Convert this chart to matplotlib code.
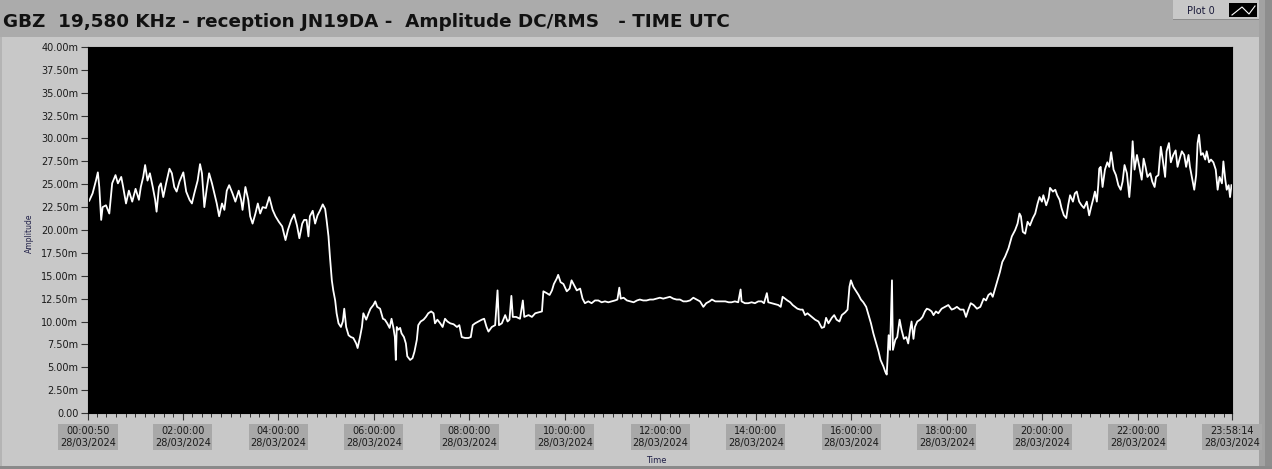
import matplotlib
matplotlib.use("Agg")
from matplotlib import pyplot as plt
from matplotlib.patches import Rectangle
from matplotlib.lines import Line2D
from matplotlib.ticker import FixedLocator, MultipleLocator, FuncFormatter

# time of day (hours UTC) and amplitude (mV)
t_night = [0.04, 0.11, 0.18, 0.22, 0.25, 0.29, 0.32, 0.39, 0.46, 0.52, 0.59, 0.64, 0.71, 0.75, 0.81,
           0.87, 0.94, 1.01, 1.08, 1.12, 1.17, 1.21, 1.26, 1.31, 1.37, 1.42, 1.45, 1.50, 1.54, 1.59,
           1.65, 1.72, 1.77, 1.82, 1.87, 1.93, 2.01, 2.07, 2.14, 2.19, 2.24, 2.31, 2.36, 2.40, 2.45,
           2.50, 2.55, 2.61, 2.66, 2.71, 2.76, 2.82, 2.87, 2.92, 2.97, 3.04, 3.10, 3.17, 3.22, 3.25,
           3.31, 3.37, 3.41, 3.46, 3.52, 3.57, 3.62, 3.67, 3.74, 3.81, 3.88, 3.94, 4.01, 4.08, 4.15,
           4.20, 4.27, 4.33, 4.39, 4.44, 4.50, 4.54]
a_night = [23.2, 24.0, 25.4, 26.3, 24.7, 21.1, 22.5, 22.7, 21.8, 25.1, 26.0, 25.1, 25.8, 24.7, 22.9,
           24.3, 23.1, 24.5, 23.3, 24.7, 25.8, 27.1, 25.4, 26.2, 24.7, 23.3, 22.0, 24.7, 25.1, 23.6,
           25.1, 26.7, 26.2, 24.7, 24.2, 25.3, 26.3, 24.2, 23.3, 22.9, 24.0, 25.4, 27.2, 26.2, 22.5,
           24.5, 26.2, 25.1, 24.0, 22.9, 21.5, 22.9, 22.2, 24.3, 24.9, 24.0, 23.1, 24.3, 23.3, 22.2,
           24.7, 23.3, 21.5, 20.7, 21.8, 22.9, 21.8, 22.5, 22.4, 23.6, 22.2, 21.5, 20.9, 20.4, 18.9,
           20.0, 21.1, 21.7, 20.5, 19.1, 20.7, 21.1]

t_morning = [4.59, 4.63, 4.66, 4.72, 4.77, 4.82, 4.87, 4.93, 4.98, 5.01, 5.05, 5.08, 5.12, 5.15, 5.19,
             5.22, 5.26, 5.31, 5.35, 5.38, 5.42, 5.47, 5.52, 5.57, 5.63, 5.66, 5.71, 5.75, 5.78, 5.84,
             5.89, 5.93, 5.99, 6.03, 6.07, 6.13, 6.19, 6.23, 6.28, 6.33, 6.37, 6.41, 6.44, 6.46, 6.48,
             6.51, 6.55, 6.58, 6.63, 6.67, 6.70, 6.76, 6.81, 6.85, 6.90, 6.93, 6.98, 7.04, 7.09, 7.14,
             7.20, 7.25, 7.28, 7.33, 7.39, 7.44, 7.49, 7.54, 7.60, 7.67, 7.74, 7.79, 7.84, 7.91, 7.98,
             8.03, 8.07, 8.12, 8.19, 8.26, 8.31, 8.36, 8.40, 8.47, 8.54, 8.59, 8.62, 8.68, 8.75, 8.80,
             8.84, 8.88, 8.91, 8.98, 9.06, 9.12, 9.15, 9.24, 9.31, 9.38, 9.45, 9.52, 9.55, 9.62, 9.68,
             9.73, 9.77, 9.83, 9.86, 9.91, 9.97, 10.04, 10.10, 10.14, 10.19, 10.25, 10.32, 10.37, 10.42,
             10.49, 10.56, 10.63, 10.70]
a_morning = [21.1, 19.3, 21.5, 22.1, 20.7, 21.6, 22.1, 22.8, 22.3, 21.1, 19.3, 17.1, 14.5, 13.4, 12.3,
             10.9, 9.8, 9.4, 10.0, 11.4, 9.4, 8.5, 8.3, 8.2, 7.6, 7.1, 8.3, 9.4, 10.9, 10.2,
             10.9, 11.4, 11.8, 12.2, 11.6, 11.4, 10.3, 10.2, 9.8, 9.3, 10.3, 9.3, 8.3, 5.8, 9.4,
             9.1, 9.3, 8.7, 8.3, 7.6, 6.2, 5.8, 6.0, 6.7, 8.0, 9.6, 10.0, 10.2, 10.5, 10.9,
             11.1, 10.9, 9.8, 10.2, 9.8, 9.4, 10.3, 10.0, 9.8, 9.7, 9.4, 9.6, 8.3, 8.2, 8.2,
             8.3, 9.6, 9.8, 10.0, 10.2, 10.3, 9.4, 8.9, 9.4, 9.6, 13.4, 9.6, 9.8, 10.7, 10.0,
             10.2, 12.8, 10.5, 10.5, 10.3, 12.3, 10.5, 10.7, 10.5, 10.9, 11.0, 11.1, 13.3, 13.1, 12.9,
             13.4, 14.1, 14.7, 15.1, 14.3, 14.1, 13.3, 13.6, 14.5, 14.0, 13.4, 13.6, 12.5, 12.0,
             12.2, 12.0, 12.3, 12.3]

t_midday = [10.77, 10.84, 10.91, 10.98, 11.05, 11.10, 11.14, 11.17, 11.23, 11.30, 11.37, 11.44, 11.51,
            11.57, 11.64, 11.71, 11.78, 11.85, 11.92, 11.99, 12.06, 12.13, 12.20, 12.27, 12.34, 12.41,
            12.48, 12.55, 12.62, 12.69, 12.76, 12.83, 12.90, 12.96, 13.03, 13.08, 13.15, 13.22, 13.29,
            13.36, 13.43, 13.49, 13.56, 13.63, 13.68, 13.70, 13.77, 13.84, 13.91, 13.98, 14.05, 14.12,
            14.17, 14.23, 14.26, 14.33, 14.40, 14.47, 14.52, 14.56, 14.61, 14.66, 14.72, 14.77, 14.82,
            14.87, 14.93, 14.98, 15.03, 15.08]
a_midday = [12.1, 12.2, 12.1, 12.2, 12.3, 12.4, 13.7, 12.5, 12.6, 12.3, 12.2, 12.1, 12.3,
            12.4, 12.3, 12.3, 12.4, 12.4, 12.5, 12.6, 12.5, 12.6, 12.7, 12.5, 12.4, 12.4,
            12.2, 12.2, 12.3, 12.6, 12.4, 12.2, 11.6, 12.0, 12.2, 12.4, 12.2, 12.2, 12.2,
            12.2, 12.1, 12.1, 12.2, 12.1, 13.5, 12.2, 12.0, 12.0, 12.1, 12.0, 12.2, 12.2,
            12.0, 13.1, 12.1, 12.0, 11.9, 11.8, 11.6, 12.7, 12.5, 12.3, 12.1, 11.8, 11.6,
            11.4, 11.3, 11.3, 10.7, 10.9]

t_dusk = [15.17, 15.24, 15.31, 15.38, 15.43, 15.47, 15.52, 15.59, 15.64, 15.69, 15.75, 15.80, 15.87,
          15.92, 15.96, 15.99, 16.04, 16.10, 16.15, 16.20, 16.25, 16.31, 16.36, 16.41, 16.46, 16.52,
          16.57, 16.61, 16.67, 16.71, 16.74, 16.76, 16.78, 16.81, 16.85, 16.87, 16.92, 16.96, 17.01,
          17.05, 17.10, 17.15, 17.19, 17.23, 17.26, 17.30, 17.33, 17.38, 17.44, 17.49, 17.54, 17.58,
          17.63, 17.68, 17.72, 17.77, 17.82, 17.89, 17.96, 18.03, 18.10, 18.15, 18.21, 18.28, 18.35,
          18.40, 18.45, 18.50, 18.56, 18.63, 18.70, 18.77, 18.82, 18.87, 18.92, 18.96, 19.01, 19.06,
          19.11, 19.16]
a_dusk = [10.5, 10.2, 10.0, 9.3, 9.4, 10.4, 9.8, 10.4, 10.7, 10.2, 10.0, 10.7, 11.0,
          11.3, 13.8, 14.5, 13.8, 13.3, 12.9, 12.4, 12.1, 11.6, 10.7, 9.8, 8.7, 7.6,
          6.7, 5.8, 5.1, 4.5, 4.2, 6.2, 8.5, 6.9, 14.5, 6.9, 8.0, 8.3, 10.2,
          9.1, 8.1, 8.3, 7.6, 9.1, 10.0, 8.1, 9.4, 10.0, 10.2, 10.5, 11.1, 11.4,
          11.3, 11.1, 10.7, 11.1, 10.9, 11.4, 11.6, 11.8, 11.3, 11.4, 11.6, 11.3, 11.3,
          10.5, 11.3, 12.0, 11.8, 11.4, 11.6, 12.5, 12.3, 12.9, 13.1, 12.7, 13.6, 14.5,
          15.4, 16.5]

t_evening = [19.22, 19.29, 19.36, 19.43, 19.48, 19.52, 19.55, 19.59, 19.64, 19.69, 19.74, 19.80,
             19.85, 19.90, 19.94, 19.99, 20.02, 20.08, 20.13, 20.16, 20.22, 20.27, 20.31, 20.36,
             20.40, 20.45, 20.50, 20.54, 20.58, 20.64, 20.68, 20.72, 20.77, 20.82, 20.87, 20.93,
             20.98, 21.02, 21.07, 21.10, 21.14, 21.17, 21.19]
a_evening = [17.1, 18.0, 19.3, 20.0, 20.7, 21.8, 21.5, 19.8, 19.6, 20.9, 20.5, 21.3,
             21.8, 22.9, 23.6, 23.1, 23.8, 22.7, 23.5, 24.6, 24.2, 24.4, 23.8, 23.3,
             22.4, 21.6, 21.3, 22.7, 23.8, 23.1, 24.0, 24.2, 23.1, 22.7, 22.4, 23.1,
             21.6, 22.5, 23.5, 24.2, 23.1, 24.9, 26.7]

t_late = [21.22, 21.26, 21.31, 21.36, 21.40, 21.44, 21.49, 21.54, 21.59, 21.64, 21.68, 21.72, 21.77,
          21.82, 21.85, 21.89, 21.93, 21.98, 22.03, 22.08, 22.12, 22.16, 22.20, 22.26, 22.30, 22.35,
          22.38, 22.43, 22.48, 22.52, 22.57, 22.60, 22.65, 22.69, 22.74, 22.79, 22.83, 22.87, 22.92,
          22.97, 23.01, 23.06, 23.09, 23.13, 23.18, 23.22, 23.25, 23.28, 23.32, 23.36, 23.41, 23.44,
          23.49, 23.53, 23.58, 23.63, 23.67, 23.71, 23.76, 23.79, 23.83, 23.86, 23.90, 23.93, 23.96]
a_late = [26.9, 24.7, 26.6, 27.4, 26.9, 28.5, 26.6, 26.0, 24.9, 24.4, 25.3, 27.1, 26.2,
          23.6, 25.5, 29.7, 26.6, 28.2, 26.9, 25.5, 27.8, 26.9, 25.8, 26.2, 25.3, 24.7,
          25.8, 26.0, 29.1, 27.7, 25.8, 28.6, 29.5, 27.4, 28.2, 28.7, 26.9, 27.7, 28.6,
          28.2, 26.9, 28.2, 26.9, 25.8, 24.4, 26.0, 29.5, 30.4, 28.2, 28.4, 27.7, 28.6,
          27.4, 27.7, 27.4, 26.6, 24.4, 25.8, 25.1, 27.5, 25.5, 24.4, 24.9, 23.6, 24.9]

t_start, t_end = 50 / 3600, (23 * 3600 + 58 * 60 + 14) / 3600
tick_hours = [t_start, 2, 4, 6, 8, 10, 12, 14, 16, 18, 20, 22, t_end]
tick_times = ["00:00:50", "02:00:00", "04:00:00", "06:00:00", "08:00:00", "10:00:00", "12:00:00",
              "14:00:00", "16:00:00", "18:00:00", "20:00:00", "22:00:00", "23:58:14"]
date_str = "28/03/2024"

times = t_night + t_morning + t_midday + t_dusk + t_evening + t_late
amps = a_night + a_morning + a_midday + a_dusk + a_evening + a_late

W, H = 1272, 469
fig = plt.figure(figsize=(W / 100, H / 100), dpi=100)
fig.patch.set_facecolor('#ababab')


def px_rect(x0, y0, x1, y1, color):
    # rectangle given in image pixels (top-left origin)
    fig.add_artist(Rectangle((x0 / W, 1 - y1 / H), (x1 - x0) / W, (y1 - y0) / H,
                             transform=fig.transFigure, facecolor=color, edgecolor='none', zorder=0))


# window panels
px_rect(0, 37, 1259, 466, '#c8c8c8')
px_rect(0, 37, 2, 466, '#b4b4b4')
px_rect(1259, 0, 1265, 469, '#a2a2a2')
px_rect(1265, 0, 1272, 469, '#8e8e8e')
px_rect(0, 466, 1272, 469, '#8a8a8a')
# "Plot 0" legend
px_rect(1173, 0, 1259, 20, '#c8c8c8')
px_rect(1173, 19, 1259, 20, '#8c8c8c')
px_rect(1229, 3, 1257, 17, '#000000')
fig.add_artist(Line2D([1232 / W, 1242 / W, 1249 / W, 1255 / W],
                      [1 - 15 / H, 1 - 7 / H, 1 - 14 / H, 1 - 6 / H],
                      transform=fig.transFigure, color='white', lw=0.8))
fig.text(1201 / W, 1 - 10.5 / H, "Plot 0", fontsize=7, ha='center', va='center', color='#1a1a3a')

fig.text(3 / W, 1 - 22 / H, "GBZ  19,580 KHz - reception JN19DA -  Amplitude DC/RMS   - TIME UTC",
         fontsize=13.2, fontweight='bold', ha='left', va='center', color='#111111')

ax = fig.add_axes([88 / W, 1 - 413 / H, 1144 / W, 366 / H])
ax.set_facecolor('black')
ax.plot(times, amps, color='white', lw=1.3)

ax.set_xlim(t_start, t_end)
ax.set_ylim(0, 40)
ax.yaxis.set_major_locator(MultipleLocator(2.5))
ax.yaxis.set_major_formatter(FuncFormatter(lambda v, p: "0.00" if v == 0 else f"{v:.2f}m"))
ax.xaxis.set_major_locator(FixedLocator(tick_hours))
ax.xaxis.set_minor_locator(MultipleLocator(0.2))
ax.set_xticklabels([f"{t}\n{date_str}" for t in tick_times], linespacing=1.3)

ax.tick_params(axis='y', direction='out', length=5, width=0.8, pad=2, labelsize=7,
               colors='#333333', labelcolor='#1a1a1a')
ax.tick_params(axis='x', which='major', direction='out', length=5, width=0.8, pad=4,
               labelsize=7, colors='#333333', labelcolor='#1a1a1a')
ax.tick_params(axis='x', which='minor', direction='out', length=3, width=0.7, colors='#333333')
for lbl in ax.get_xticklabels():
    lbl.set_bbox(dict(facecolor='#a8a8a8', edgecolor='none', pad=1.2))

for s in ax.spines.values():
    s.set_color('black')

ax.set_ylabel("Amplitude", fontsize=5.5, color='#202048')
ax.yaxis.set_label_coords(-0.047, 0.49)
ax.set_xlabel("Time", fontsize=6, color='#202048')
ax.xaxis.set_label_coords(0.497, -0.117)

fig.savefig("out.png", dpi=100, facecolor=fig.get_facecolor())
